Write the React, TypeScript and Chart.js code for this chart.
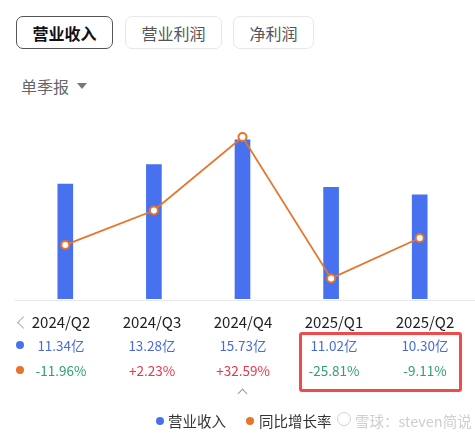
import React, { useEffect, useRef } from "react";
import { Chart, registerables } from "chart.js";

Chart.register(...registerables);

const categories = ["2024/Q2", "2024/Q3", "2024/Q4", "2025/Q1", "2025/Q2"];
const revenue = [11.34, 13.28, 15.73, 11.02, 10.3];
const growth = [-11.96, 2.23, 32.59, -25.81, -9.11];
const revenueLabels = ["11.34亿", "13.28亿", "15.73亿", "11.02亿", "10.30亿"];
const growthLabels = ["-11.96%", "+2.23%", "+32.59%", "-25.81%", "-9.11%"];
const tabs = ["营业收入", "营业利润", "净利润"];

const BLUE = "#4771EE";
const ORANGE = "#E8732A";
const FONT = '"Noto Sans CJK SC", "Noto Sans", sans-serif';
const colX = [61, 152, 243, 334, 425];

export default function App() {
  const ref = useRef<HTMLCanvasElement | null>(null);
  useEffect(() => {
    if (!ref.current) return;
    const chart = new Chart(ref.current, {
      type: "bar",
      data: {
        labels: categories,
        datasets: [
          {
            type: "line",
            data: growth,
            yAxisID: "y1",
            borderColor: ORANGE,
            borderWidth: 1.8,
            pointRadius: 4,
            pointBackgroundColor: "#fff",
            pointBorderColor: ORANGE,
            pointBorderWidth: 2,
            tension: 0,
            clip: false as any,
            order: 0,
          },
          {
            type: "bar",
            data: revenue,
            yAxisID: "y",
            backgroundColor: BLUE,
            barThickness: 15,
            order: 1,
          },
        ],
      },
      options: {
        animation: false,
        responsive: false,
        maintainAspectRatio: false,
        layout: { padding: { top: 10, bottom: 5, left: 0, right: 0 } },
        plugins: { legend: { display: false }, tooltip: { enabled: false } },
        scales: {
          x: { display: false, offset: true, grid: { display: false } },
          y: { display: false, min: 0, max: 16 },
          y1: { display: false, min: -34.3, max: 32.6 },
        },
      },
    });
    return () => chart.destroy();
  }, []);

  const abs = (s: React.CSSProperties): React.CSSProperties => ({ position: "absolute", ...s });

  return (
    <div style={{ position: "absolute", left: 0, top: 0, width: 475, height: 440, background: "#fff", fontFamily: FONT, overflow: "hidden" }}>
      {tabs.map((t, i) => {
        const lefts = [16, 125, 233];
        const widths = [97, 97, 81];
        const active = i === 0;
        return (
          <div
            key={t}
            style={abs({
              left: lefts[i],
              top: 16,
              width: widths[i],
              height: 33,
              boxSizing: "border-box",
              border: active ? "1px solid #555" : "1px solid #e8e8e8",
              borderRadius: 7,
              display: "flex",
              alignItems: "center",
              justifyContent: "center",
              fontSize: 16,
              fontWeight: active ? 700 : 400,
              color: active ? "#111" : "#555",
            })}
          >
            {t}
          </div>
        );
      })}
      <div style={abs({ left: 21, top: 74, fontSize: 16, color: "#666", lineHeight: "24px" })}>单季报</div>
      <div style={abs({ left: 77, top: 83, width: 0, height: 0, borderLeft: "5px solid transparent", borderRight: "5px solid transparent", borderTop: "6px solid #777" })} />

      <canvas ref={ref} width={455} height={178} style={abs({ left: 15, top: 127, width: 455, height: 178 })} />
      <div style={abs({ left: 15, top: 300, width: 460, height: 1, background: "#e8e8e8" })} />

      <div style={abs({ left: 19, top: 318, width: 8, height: 8, borderLeft: "1.5px solid #aaa", borderBottom: "1.5px solid #aaa", transform: "rotate(45deg)" })} />
      <div style={abs({ left: 16, top: 341, width: 8, height: 8, borderRadius: 4, background: BLUE })} />
      <div style={abs({ left: 16, top: 366, width: 8, height: 8, borderRadius: 4, background: ORANGE })} />
      {categories.map((c, i) => (
        <React.Fragment key={c}>
          <div style={abs({ left: colX[i] - 50, width: 100, top: 310, textAlign: "center", fontSize: 15, color: "#222", lineHeight: "24px" })}>{c}</div>
          <div style={abs({ left: colX[i] - 50, width: 100, top: 334, textAlign: "center", fontSize: 13.5, color: "#4A6BD6", lineHeight: "22px" })}>{revenueLabels[i]}</div>
          <div style={abs({ left: colX[i] - 50, width: 100, top: 359, textAlign: "center", fontSize: 13.5, color: growth[i] < 0 ? "#2DA26E" : "#E8374E", lineHeight: "22px" })}>{growthLabels[i]}</div>
        </React.Fragment>
      ))}
      <div style={abs({ left: 299, top: 332, width: 163, height: 60, boxSizing: "border-box", border: "3px solid #F04A4A", borderRadius: 3 })} />
      <div style={abs({ left: 239, top: 390, width: 6, height: 6, borderLeft: "1.5px solid #999", borderTop: "1.5px solid #999", transform: "rotate(45deg)" })} />

      <div style={abs({ left: 156, top: 417, width: 8, height: 8, borderRadius: 4, background: BLUE })} />
      <div style={abs({ left: 168, top: 409, fontSize: 14.5, color: "#333", lineHeight: "24px" })}>营业收入</div>
      <div style={abs({ left: 246, top: 417, width: 8, height: 8, borderRadius: 4, background: ORANGE })} />
      <div style={abs({ left: 259, top: 409, fontSize: 14.5, color: "#333", lineHeight: "24px" })}>同比增长率</div>
      <div style={abs({ left: 337, top: 412, width: 14, height: 14, borderRadius: 8, border: "1.5px solid #d0d0d0", boxSizing: "border-box" })} />
      <div style={abs({ left: 355, top: 409, fontSize: 14.5, color: "#cfcfcf", lineHeight: "24px" })}>雪球：steven简说</div>
    </div>
  );
}
